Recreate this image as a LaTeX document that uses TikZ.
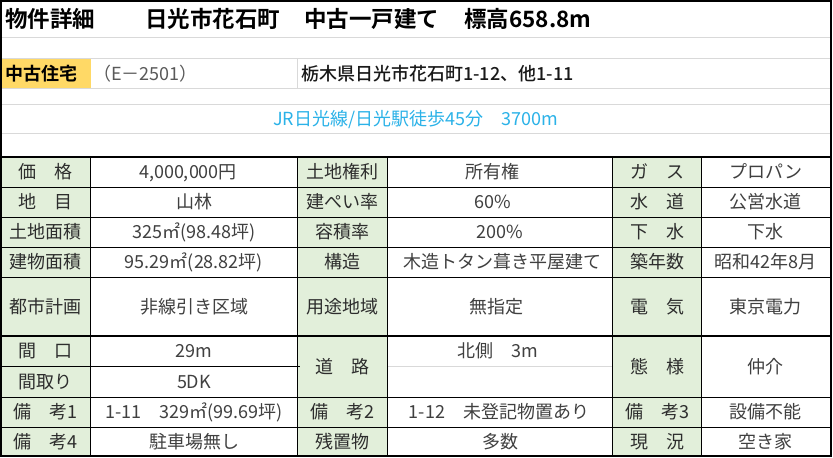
\documentclass[tikz,border=0pt]{standalone}
\usepackage{fontspec}
\setmainfont{Noto Sans CJK JP}[BoldFont={Noto Sans CJK JP Bold}]
\newfontfamily\jpmed{Noto Sans CJK JP Medium}
\definecolor{grn}{RGB}{226,239,218}
\definecolor{hdry}{RGB}{255,217,102}
\definecolor{grayl}{RGB}{217,217,217}
\definecolor{lblc}{RGB}{45,45,45}
\definecolor{valc}{RGB}{64,64,64}
\definecolor{codec}{RGB}{89,89,89}
\definecolor{bluec}{RGB}{43,178,232}
\begin{document}
\begin{tikzpicture}[x=1pt,y=-1pt,
  cell/.style={font=\fontsize{18}{18}\selectfont, inner sep=0pt, text height=15.8pt, text depth=2.2pt},
  lbl/.style={cell, text=lblc},
  val/.style={cell, text=valc},
  ttl/.style={font=\bfseries\fontsize{22.5}{22.5}\selectfont, inner sep=0pt, text height=19.8pt, text depth=2.7pt, anchor=west},
  gline/.style={draw=grayl, line width=1pt},
  bline/.style={draw=black, line width=1pt},
  brule/.style={draw=black, line width=2pt},
  frame/.style={draw=black, line width=1.6pt}
]
\useasboundingbox (0,0) rectangle (833,458);
% fills
\fill[white] (0,0) rectangle (833,458);
\fill[hdry] (0.8,58.3) rectangle (90.7,88.3);
\fill[grn] (0.8,157) rectangle (90.7,456);
\fill[grn] (297.3,157) rectangle (387.7,456);
\fill[grn] (612.7,157) rectangle (701.7,456);
% header grey rules
\foreach \yy in {37.7,58.3,88.3,104.3,133.3}
  \draw[gline] (0.8,\yy) -- (830,\yy);
\draw[gline] (297.3,58.3) -- (297.3,88.3);
\draw[gline] (387.7,366) -- (612.7,366);
% table black rules
\foreach \yy in {187,217,247,277,397,427}
  \draw[bline] (0.8,\yy) -- (830,\yy);
\draw[bline] (0.8,366) -- (299.5,366);
\foreach \xx in {90.7,297.3,387.7,612.7,701.7}
  \draw[bline] (\xx,157) -- (\xx,456);
\draw[brule] (0.8,157) -- (830,157);
\draw[brule] (0.8,336) -- (830,336);
% outer frame
\draw[frame] (0.8,0.8) rectangle (830.7,456.2);

% header texts
\node[ttl] (t1) at (5,18.5) {物件詳細};
\node[ttl] (t2) at (145,18.5) {日光市花石町};
\node[ttl] (t3) at (304,18.5) {中古一戸建て};
\node[ttl] (t4) at (464,18.5) {標高658.8m};
\node[cell, font=\bfseries\fontsize{18}{18}\selectfont, text=black, anchor=west] (kind) at (5,73.3) {中古住宅};
\node[cell, text=codec, anchor=west] (code) at (93,73.3) {（E－2501）};
\node[cell, font=\jpmed\fontsize{18}{18}\selectfont, text=black!90, anchor=west] (addr) at (301,73.3) {栃木県日光市花石町1-12、他1-11};
\node[cell, text=bluec] (access) at (415.5,118.8) {JR日光線/日光駅徒歩45分　3700m};

% row 1
\node[lbl] (l11) at (45.6,172) {価　格};
\node[val] (v11) at (188,172) {4,000,000円};
\node[lbl] (l12) at (342.5,172) {土地権利};
\node[val] (v12) at (492,172) {所有権};
\node[lbl] (l13) at (657.2,172) {ガ　ス};
\node[val] (v13) at (765.9,172) {プロパン};
% row 2
\node[lbl] (l21) at (45.6,202) {地　目};
\node[val] (v21) at (194,202) {山林};
\node[lbl] (l22) at (342.5,202) {建ぺい率};
\node[val] (v22) at (493,202) {60\%};
\node[lbl] (l23) at (657.2,202) {水　道};
\node[val] (v23) at (765.9,202) {公営水道};
% row 3
\node[lbl] (l31) at (45.6,232) {土地面積};
\node[val] (v31) at (194,232) {325㎡(98.48坪)};
\node[lbl] (l32) at (342.5,232) {容積率};
\node[val] (v32) at (500,232) {200\%};
\node[lbl] (l33) at (657.2,232) {下　水};
\node[val] (v33) at (765.9,232) {下水};
% row 4
\node[lbl] (l41) at (45.6,262) {建物面積};
\node[val] (v41) at (194,262) {95.29㎡(28.82坪)};
\node[lbl] (l42) at (342.5,262) {構造};
\node[val] (v42) at (502,262) {木造トタン葺き平屋建て};
\node[lbl] (l43) at (657.2,262) {築年数};
\node[val] (v43) at (765.9,262) {昭和42年8月};
% row 5
\node[lbl] (l51) at (45.6,306.5) {都市計画};
\node[val] (v51) at (194,306.5) {非線引き区域};
\node[lbl] (l52) at (342.5,306.5) {用途地域};
\node[val] (v52) at (496,306.5) {無指定};
\node[lbl] (l53) at (657.2,306.5) {電　気};
\node[val] (v53) at (765.9,306.5) {東京電力};
% rows 6-7
\node[lbl] (l61) at (45.6,351) {間　口};
\node[val] (v61) at (194,351) {29m};
\node[lbl] (l71) at (45.6,381.5) {間取り};
\node[val] (v71) at (194,381.5) {5DK};
\node[lbl] (l62) at (342.5,366.5) {道　路};
\node[val] (v62) at (498,351) {北側　3m};
\node[lbl] (l63) at (657.2,366.5) {態　様};
\node[val] (v63) at (765.9,366.5) {仲介};
% row 8
\node[lbl] (l81) at (45.6,412) {備　考1};
\node[val] (v81) at (194,412) {1-11　329㎡(99.69坪)};
\node[lbl] (l82) at (342.5,412) {備　考2};
\node[val] (v82) at (499,412) {1-12　未登記物置あり};
\node[lbl] (l83) at (657.2,412) {備　考3};
\node[val] (v83) at (765.9,412) {設備不能};
% row 9
\node[lbl] (l91) at (45.6,441.5) {備　考4};
\node[val] (v91) at (194,441.5) {駐車場無し};
\node[lbl] (l92) at (342.5,441.5) {残置物};
\node[val] (v92) at (500,441.5) {多数};
\node[lbl] (l93) at (657.2,441.5) {現　況};
\node[val] (v93) at (765.9,441.5) {空き家};
\end{tikzpicture}
\end{document}
